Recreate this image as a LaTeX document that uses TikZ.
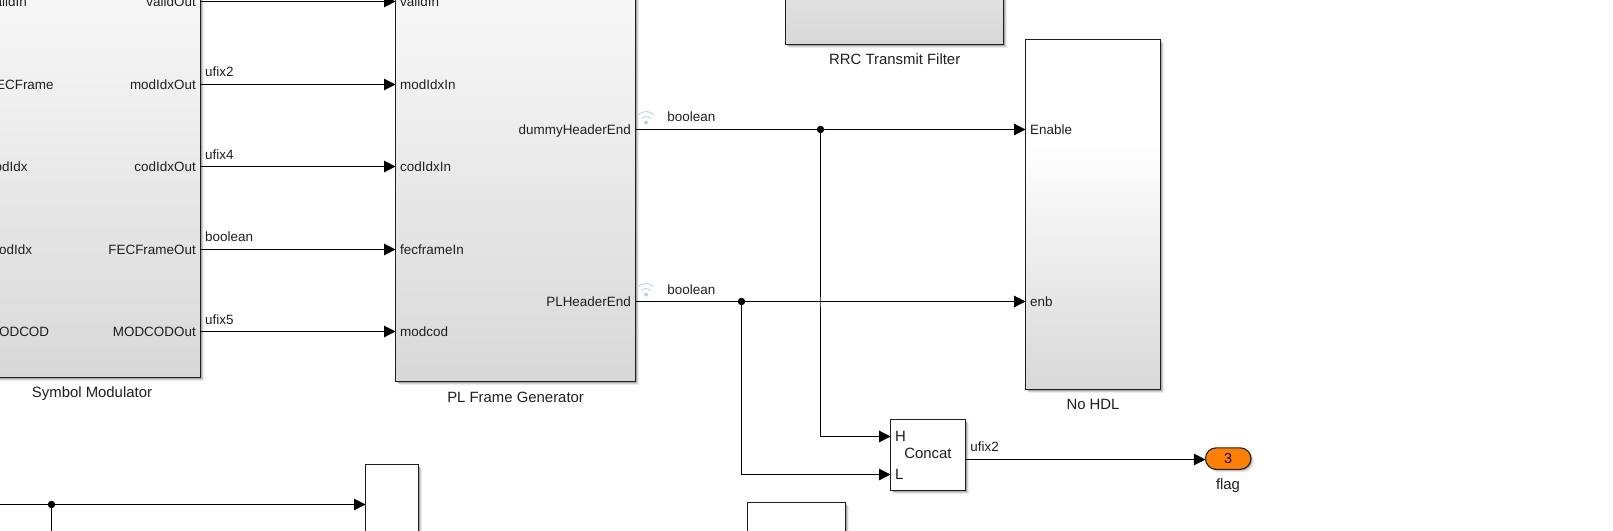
\documentclass[tikz,border=0pt]{standalone}
\usepackage{fontspec}
\setmainfont{Liberation Sans}
\usetikzlibrary{arrows.meta,shadows}
\definecolor{simd}{HTML}{D8D8D8}
\definecolor{sigblue}{HTML}{B4D2EC}
\definecolor{simorange}{HTML}{FF8000}
\pgfdeclareverticalshading{simgrad}{100bp}{color(0bp)=(simd); color(25bp)=(simd); color(60bp)=(white); color(100bp)=(white)}
\tikzset{
  softshadow/.style={general shadow={shadow xshift=3pt,shadow yshift=-3pt,fill=black,opacity=.07},general shadow={shadow xshift=2pt,shadow yshift=-2pt,fill=black,opacity=.12},general shadow={shadow xshift=1pt,shadow yshift=-1pt,fill=black,opacity=.18}},
  block/.style={draw=black!88,line width=1.1pt,rectangle,inner sep=0pt,outer sep=0pt,softshadow},
  gradblock/.style={block,shade,shading=simgrad},
  whiteblock/.style={block,fill=white},
  portr/.style={font=\fontsize{13.45}{14}\selectfont,anchor=east,inner sep=0pt,text height=10pt,text depth=0.6pt,text=black!88},
  portl/.style={font=\fontsize{13.45}{14}\selectfont,anchor=west,inner sep=0pt,text height=10pt,text depth=0.6pt,text=black!88},
  siglabel/.style={font=\fontsize{13.45}{14}\selectfont,anchor=west,inner sep=0pt,text height=10pt,text depth=0.6pt,text=black!88},
  caption/.style={font=\fontsize{14.9}{15}\selectfont,inner sep=0pt,text height=10.5pt,text depth=0.6pt,text=black!88},
  conn/.style={line width=1.1pt,draw=black,-{Triangle[length=11.5pt,width=11.5pt]}},
  wire/.style={line width=1.1pt,draw=black},
  junction/.style={circle,fill=black,inner sep=0pt,outer sep=0pt,minimum size=7.4pt},
  sigicon/.pic={
    \draw[sigblue,line width=0.9pt] (-7.5,-6.5) .. controls (-3,-10.5) and (3,-10.5) .. (7.5,-6.5);
    \draw[sigblue,line width=0.9pt] (-4.5,-2.5) .. controls (-2,-5) and (2,-5) .. (4.5,-2.5);
    \fill[sigblue] (0,1.5) circle (2pt);
  },
}
\begin{document}
\begin{tikzpicture}[x=1pt,y=-1pt]
\useasboundingbox (0,0) rectangle (1613,530);
\clip (0,0) rectangle (1613,530);
% blocks
\node[gradblock,minimum width=217.5pt,minimum height=667.5pt] (sm) at (91.75,43.75) {};
\node[gradblock,minimum width=240pt,minimum height=671.5pt] (pf) at (515.5,45.75) {};
\node[gradblock,minimum width=218pt,minimum height=309.5pt] (rrc) at (894.5,-110.25) {};
\node[gradblock,minimum width=135pt,minimum height=350pt] (nohdl) at (1093,214.5) {};
\node[whiteblock,minimum width=75pt,minimum height=71pt] (concat) at (928,455) {};
\node[whiteblock,minimum width=53pt,minimum height=175.5pt] (bl) at (392,552.25) {};
\node[whiteblock,minimum width=98pt,minimum height=137.5pt] (bm) at (796.5,571.25) {};
\node[block,fill=simorange,rounded corners=10.7pt,minimum width=45.5pt,minimum height=21.5pt,font=\fontsize{14.4}{15}\selectfont,inner sep=0pt] (flag) at (1228.2,458.6) {3};
% captions
\node[caption] (capsm) at (92,392.5) {Symbol Modulator};
\node[caption] (cappf) at (515.6,397.5) {PL Frame Generator};
\node[caption] (caprrc) at (894.7,59.5) {RRC Transmit Filter};
\node[caption] (capno) at (1093,404.8) {No HDL};
\node[caption] (capflag) at (1228,484.5) {flag};
\node[caption] (concatname) at (928,454) {Concat};
% Symbol Modulator ports
\node[portl] (smi1) at (-12.3,1.5) {validIn};
\node[portl] (smi2) at (-12.3,84.5) {FECFrame};
\node[portl] (smi3) at (-12.3,166.5) {codIdx};
\node[portl] (smi4) at (-12.3,249.5) {modIdx};
\node[portl] (smi5) at (-12.3,331.5) {MODCOD};
\node[portr] (smo1) at (196,1.5) {validOut};
\node[portr] (smo2) at (196,84.5) {modIdxOut};
\node[portr] (smo3) at (196,166.5) {codIdxOut};
\node[portr] (smo4) at (196,249.5) {FECFrameOut};
\node[portr] (smo5) at (196,331.5) {MODCODOut};
% PL Frame ports
\node[portl] (pfi1) at (400,1.5) {validIn};
\node[portl] (pfi2) at (400,84.5) {modIdxIn};
\node[portl] (pfi3) at (400,166.5) {codIdxIn};
\node[portl] (pfi4) at (400,249.5) {fecframeIn};
\node[portl] (pfi5) at (400,331.5) {modcod};
\node[portr] (pfo1) at (631,129.5) {dummyHeaderEnd};
\node[portr] (pfo2) at (631,301.5) {PLHeaderEnd};
% No HDL ports
\node[portl] (ni1) at (1030,129.5) {Enable};
\node[portl] (ni2) at (1030,301.5) {enb};
% Concat ports
\node[caption,anchor=west] (cH) at (895,436.5) {H};
\node[caption,anchor=west] (cL) at (895,474.5) {L};
% connectors
\draw[conn] (sm.east |- smo1) -- (pf.west |- smo1);
\draw[conn] (sm.east |- smo2) -- (pf.west |- smo2);
\draw[conn] (sm.east |- smo3) -- (pf.west |- smo3);
\draw[conn] (sm.east |- smo4) -- (pf.west |- smo4);
\draw[conn] (sm.east |- smo5) -- (pf.west |- smo5);
\node[junction] (j1) at (820.5,129.5) {};
\node[junction] (j2) at (741.5,301.5) {};
\draw[conn] (j1.center) |- (concat.west |- cH);
\draw[conn] (j2.center) |- (concat.west |- cL);
\coordinate (crossa) at (820.5,296.5);
\coordinate (crossb) at (820.5,306.5);
\draw[white,opacity=.35,line width=1.4pt] (crossa) -- (crossb);
\draw[conn] (pf.east |- pfo1) -- (nohdl.west |- pfo1);
\draw[conn] (pf.east |- pfo2) -- (nohdl.west |- pfo2);
\coordinate (cout) at (965.5,459.5);
\draw[conn] (cout) -- (flag.west |- cout);
\coordinate (bfree) at (-5,504.5);
\coordinate (bdown) at (51.5,540);
\node[junction] (j3) at (51.5,504.5) {};
\draw[conn] (bfree) -- (bl.west |- bfree);
\draw[wire] (j3.center) -- (bdown);
% signal labels
\node[siglabel] (l1) at (205,71.7) {ufix2};
\node[siglabel] (l2) at (205,154.7) {ufix4};
\node[siglabel] (l3) at (205,236.7) {boolean};
\node[siglabel] (l4) at (205,319.7) {ufix5};
\node[siglabel] (l5) at (667.2,116.3) {boolean};
\node[siglabel] (l6) at (667.2,289.3) {boolean};
\node[siglabel] (l7) at (970.2,446.7) {ufix2};
% signal icons
\pic at (646,121) {sigicon};
\pic at (646,293) {sigicon};
\end{tikzpicture}
\end{document}
